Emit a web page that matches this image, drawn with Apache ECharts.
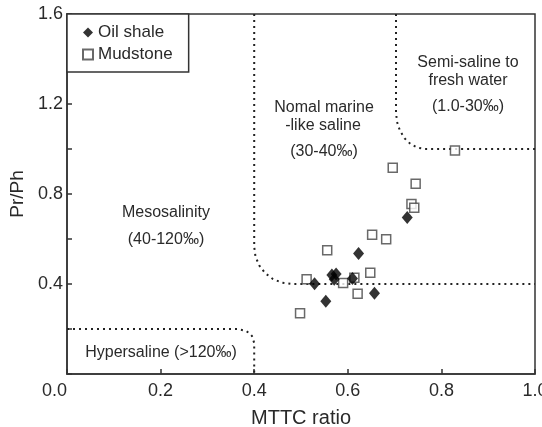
<!DOCTYPE html>
<html>
<head>
<meta charset="utf-8">
<script src="https://cdn.jsdelivr.net/npm/echarts@6/dist/echarts.min.js"></script>
<style>html,body{margin:0;padding:0;background:#fff;}#c{width:542px;height:427px;}</style>
</head>
<body>
<div id="c"></div>
<script>
// Data (x = MTTC ratio, y = Pr/Ph)
const oilShale = [
  [0.727, 0.696], [0.623, 0.536], [0.566, 0.440], [0.575, 0.444], [0.571, 0.421],
  [0.610, 0.425], [0.529, 0.401], [0.657, 0.359], [0.553, 0.323]
];
const mudstone = [
  [0.829, 0.993], [0.696, 0.917], [0.745, 0.846], [0.736, 0.756], [0.742, 0.739],
  [0.652, 0.619], [0.682, 0.599], [0.556, 0.550], [0.648, 0.450], [0.512, 0.421],
  [0.614, 0.428], [0.590, 0.404], [0.621, 0.357], [0.498, 0.270]
];
// Salinity-zone boundary lines (data coordinates)
const boundaryA = [[0.4, 1.6], [0.4, 0.565], [0.4027, 0.5223], [0.4107, 0.4825], [0.4234, 0.4483],
  [0.44, 0.4221], [0.4593, 0.4056], [0.48, 0.40], [1.0, 0.40]];
const boundaryB = [[0.703, 1.6], [0.703, 1.164], [0.7051, 1.1215], [0.7113, 1.082], [0.7212, 1.048],
  [0.734, 1.022], [0.749, 1.0056], [0.765, 1.0], [1.0, 1.0]];
const boundaryC = [[0.0, 0.2], [0.364, 0.2], [0.382, 0.1917], [0.3895, 0.1818], [0.3952, 0.169],
  [0.4, 0.138], [0.4, 0.0]];
const xTicks = [0.0, 0.2, 0.4, 0.6, 0.8, 1.0];
const yTickLabels = [0.4, 0.8, 1.2, 1.6];

const FONT = '"Liberation Sans", Arial, sans-serif';
const TXT = '#2a2a2a';
const chart = echarts.init(document.getElementById('c'), null, {renderer: 'canvas'});

function dotted(data) {
  return {
    type: 'line', data: data, showSymbol: false, symbol: 'none', silent: true,
    lineStyle: {color: '#222', width: 2, type: [2, 4]}, z: 1, legendHoverLink: false
  };
}
function label(text, x, y) {
  return {type: 'text', x: x, y: y, style: {text: text, fill: TXT, font: '16px ' + FONT, align: 'center', verticalAlign: 'middle'}};
}

chart.setOption({
  animation: false,
  backgroundColor: '#fff',
  grid: {left: 67, right: 7, top: 14, bottom: 53, show: true, borderColor: '#333', borderWidth: 1.5,
         containLabel: false, outerBoundsMode: 'none'},
  legend: {
    orient: 'vertical', left: 67, top: 14, padding: [10, 16, 9, 15], itemGap: 5,
    itemWidth: 10, itemHeight: 10, backgroundColor: '#fff',
    borderColor: '#333', borderWidth: 1.5,
    textStyle: {fontSize: 17, color: TXT, fontFamily: FONT},
    data: ['Oil shale', 'Mudstone']
  },
  xAxis: {
    type: 'value', min: 0, max: 1, interval: 0.2,
    name: 'MTTC ratio', nameLocation: 'middle', nameGap: 34,
    nameTextStyle: {fontSize: 20, color: TXT, fontFamily: FONT},
    axisLine: {lineStyle: {color: '#333', width: 1.5}},
    axisTick: {inside: true, length: 5, lineStyle: {color: '#333', width: 1.5}},
    splitLine: {show: false},
    axisLabel: {
      fontSize: 18, color: TXT, fontFamily: FONT, margin: 8, alignMinLabel: 'right',
      formatter: v => xTicks.some(t => Math.abs(t - v) < 1e-6) ? v.toFixed(1) : ''
    }
  },
  yAxis: {
    type: 'value', min: 0, max: 1.6, interval: 0.2,
    name: 'Pr/Ph', nameLocation: 'middle', nameGap: 37, nameRotate: 90,
    nameTextStyle: {fontSize: 19, color: TXT, fontFamily: FONT},
    axisLine: {lineStyle: {color: '#333', width: 1.5}},
    axisTick: {inside: true, length: 5, lineStyle: {color: '#333', width: 1.5}},
    splitLine: {show: false},
    axisLabel: {
      fontSize: 18, color: TXT, fontFamily: FONT, margin: 4,
      formatter: v => yTickLabels.some(t => Math.abs(t - v) < 1e-6) ? v.toFixed(1) : ''
    }
  },
  graphic: [
    label('Semi-saline to', 468, 63),
    label('fresh water', 468, 81),
    label('(1.0-30\u2030)', 468, 107),
    label('Nomal marine', 324, 108),
    label('-like saline', 323, 126),
    label('(30-40\u2030)', 324, 152),
    label('Mesosalinity', 166, 213),
    label('(40-120\u2030)', 166, 240),
    label('Hypersaline (>120\u2030)', 161, 353)
  ],
  series: [
    dotted(boundaryA), dotted(boundaryB), dotted(boundaryC),
    {
      name: 'Oil shale', type: 'scatter', data: oilShale, symbol: 'diamond', symbolSize: [11, 13],
      itemStyle: {color: '#000'}, z: 3
    },
    {
      name: 'Mudstone', type: 'scatter', data: mudstone, symbol: 'rect', symbolSize: 9,
      itemStyle: {color: '#fff', borderColor: '#444', borderWidth: 1.5}, z: 2
    }
  ]
});
</script>
</body>
</html>
